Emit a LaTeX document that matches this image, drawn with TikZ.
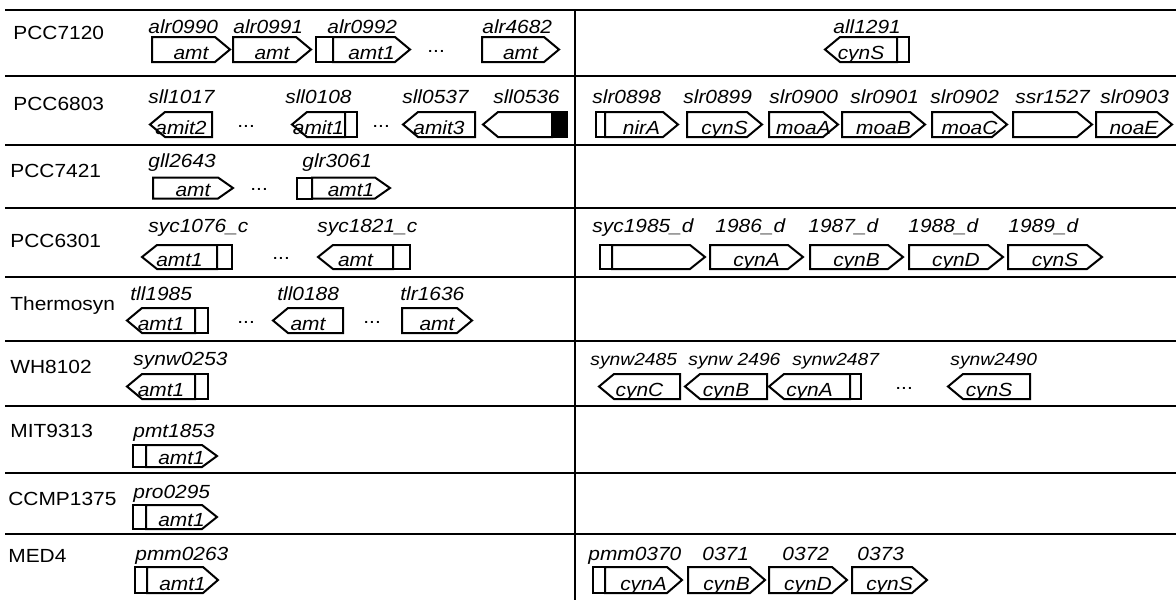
\documentclass[tikz,border=0pt]{standalone}
\usepackage{fontspec}
\setmainfont{Liberation Sans}[FakeStretch=1.1]
\newcommand{\gfont}{\fontsize{9.5}{11}\selectfont}
\newcommand{\sfont}{\fontsize{8.75}{10}\selectfont}
\newcommand{\ghalf}{12.5}
\newcommand{\gtip}{15}
% forward gene: name, left, tip, centre, text
\newcommand{\fgene}[5]{\draw[genebox] (#2,#4-\ghalf)--(#3-\gtip,#4-\ghalf)--(#3,#4)--(#3-\gtip,#4+\ghalf)--(#2,#4+\ghalf)--cycle;
  \node[inlab] (#1) at ({(#2+#3)/2},#4+\ghalf-2.5) {#5};}
% reverse gene: name, tip, right, centre, text
\newcommand{\rgene}[5]{\draw[genebox] (#2,#4)--(#2+\gtip,#4-\ghalf)--(#3,#4-\ghalf)--(#3,#4+\ghalf)--(#2+\gtip,#4+\ghalf)--cycle;
  \node[inlab] (#1) at ({(#2+#3)/2},#4+\ghalf-2.5) {#5};}
\newcommand{\prom}[3]{\draw[genebox] (#1,#3-\ghalf) rectangle (#2,#3+\ghalf);}
\begin{document}
\begin{tikzpicture}[x=0.5pt,y=-0.5pt,
  rule/.style={line width=1.35pt},
  genebox/.style={line width=1pt,line join=miter},
  inlab/.style={anchor=base,inner sep=0pt,font=\gfont\itshape},
  gid/.style={anchor=base west,inner sep=0pt,font=\gfont\itshape},
  sgid/.style={gid,font=\sfont\itshape},
  org/.style={anchor=base west,inner sep=0pt,font=\gfont},
  dots/.style={anchor=base west,inner sep=0pt,font=\gfont}]
\useasboundingbox (0,0) rectangle (1176,600);
\foreach \y in {10,76,145,208,277,341,406,473,534} \draw[rule] (5,\y) -- (1176,\y);
\draw[rule] (575,10) -- (575,600);
\node[org] (o7120) at (13,39) {PCC7120};
\node[org] (o6803) at (13,110) {PCC6803};
\node[org] (o7421) at (10,177) {PCC7421};
\node[org] (o6301) at (10,247) {PCC6301};
\node[org] (otherm) at (10,310) {Thermosyn};
\node[org] (o8102) at (10,373) {WH8102};
\node[org] (o9313) at (10,437) {MIT9313};
\node[org] (o1375) at (8,505) {CCMP1375};
\node[org] (omed4) at (8,562) {MED4};
% PCC7120
\node[gid] (alr0990) at (148,33) {alr0990};
\node[gid] (alr0991) at (233,33) {alr0991};
\node[gid] (alr0992) at (327,33) {alr0992};
\node[gid] (alr4682) at (482,33) {alr4682};
\fgene{amt-a}{152}{230}{49.5}{amt}
\fgene{amt-b}{233}{311}{49.5}{amt}
\prom{316}{333}{49.5}\fgene{amt1-a}{333}{410}{49.5}{amt1}
\node[dots] (d1) at (427,52) {...};
\fgene{amt-c}{482}{559}{49.5}{amt}
\node[gid] (all1291) at (833,33) {all1291};
\rgene{cynS-a}{825}{897}{49.5}{cynS}\prom{897}{909}{49.5}
% PCC6803
\node[gid] (sll1017) at (148,103) {sll1017};
\node[gid] (sll0108) at (285,103) {sll0108};
\node[gid] (sll0537) at (402,103) {sll0537};
\node[gid] (sll0536) at (493,103) {sll0536};
\rgene{amit2}{150}{212}{124.5}{amit2}
\node[dots] (d2) at (237,127) {...};
\rgene{amit1}{292}{345}{124.5}{amit1}\prom{345}{357}{124.5}
\node[dots] (d3) at (372,127) {...};
\rgene{amit3}{403}{475}{124.5}{amit3}
\rgene{g0536}{483}{552}{124.5}{}
\filldraw[genebox] (552,112) rectangle (567,137);
\node[gid] (slr0898) at (592,103) {slr0898};
\node[gid] (slr0899) at (683,103) {slr0899};
\node[gid] (slr0900) at (769,103) {slr0900};
\node[gid] (slr0901) at (850,103) {slr0901};
\node[gid] (slr0902) at (930,103) {slr0902};
\node[gid] (ssr1527) at (1015,103) {ssr1527};
\node[gid] (slr0903) at (1100,103) {slr0903};
\prom{596}{605}{124.5}\fgene{nirA}{605}{678}{124.5}{nirA}
\fgene{cynS-b}{687}{762}{124.5}{cynS}
\fgene{moaA}{769}{838}{124.5}{moaA}
\fgene{moaB}{842}{925}{124.5}{moaB}
\fgene{moaC}{932}{1007}{124.5}{moaC}
\fgene{g1527}{1013}{1092}{124.5}{}
\fgene{noaE}{1096}{1172}{124.5}{noaE}
% PCC7421
\renewcommand{\ghalf}{10.5}
\node[gid] (gll2643) at (148,167) {gll2643};
\node[gid] (glr3061) at (302,167) {glr3061};
\fgene{amt-d}{153}{233}{188}{amt}
\node[dots] (d4) at (250,190) {...};
\prom{297}{312}{188}\fgene{amt1-b}{312}{390}{188}{amt1}
% PCC6301
\renewcommand{\ghalf}{12}
\node[gid] (syc1076) at (148,232) {syc1076\_c};
\node[gid] (syc1821) at (317,232) {syc1821\_c};
\rgene{amt1-c}{142}{217}{257}{amt1}\prom{217}{232}{257}
\node[dots] (d5) at (272,259) {...};
\rgene{amt-e}{318}{393}{257}{amt}\prom{393}{410}{257}
\node[gid] (syc1985) at (592,232) {syc1985\_d};
\node[gid] (s1986) at (715,232) {1986\_d};
\node[gid] (s1987) at (808,232) {1987\_d};
\node[gid] (s1988) at (908,232) {1988\_d};
\node[gid] (s1989) at (1008,232) {1989\_d};
\prom{600}{612}{257}\fgene{g1985}{612}{705}{257}{}
\fgene{cynA-a}{710}{803}{257}{cynA}
\fgene{cynB-a}{810}{903}{257}{cynB}
\fgene{cynD-a}{909}{1003}{257}{cynD}
\fgene{cynS-c}{1008}{1102}{257}{cynS}
% Thermosyn
\renewcommand{\ghalf}{12.5}
\node[gid] (tll1985) at (130,300) {tll1985};
\node[gid] (tll0188) at (277,300) {tll0188};
\node[gid] (tlr1636) at (400,300) {tlr1636};
\rgene{amt1-d}{127}{195}{320.5}{amt1}\prom{195}{208}{320.5}
\node[dots] (d6) at (237,323) {...};
\rgene{amt-f}{273}{343}{320.5}{amt}
\node[dots] (d7) at (363,323) {...};
\fgene{amt-g}{402}{472}{320.5}{amt}
% WH8102
\node[gid] (synw0253) at (133,365) {synw0253};
\rgene{amt1-e}{127}{195}{386.5}{amt1}\prom{195}{208}{386.5}
\node[sgid] (synw2485) at (590,365) {synw2485};
\node[sgid] (synw2496) at (688,365) {synw 2496};
\node[sgid] (synw2487) at (792,365) {synw2487};
\node[sgid] (synw2490) at (950,365) {synw2490};
\rgene{cynC}{599}{680}{386.5}{cynC}
\rgene{cynB-b}{685}{767}{386.5}{cynB}
\rgene{cynA-b}{769}{850}{386.5}{cynA}\prom{850}{861}{386.5}
\node[dots] (d8) at (895,389) {...};
\rgene{cynS-d}{948}{1030}{386.5}{cynS}
% MIT9313, CCMP1375
\renewcommand{\ghalf}{11}
\node[gid] (pmt1853) at (133,437) {pmt1853};
\prom{133}{146}{456}\fgene{amt1-f}{146}{217}{456}{amt1}
\renewcommand{\ghalf}{12}
\node[gid] (pro0295) at (133,498) {pro0295};
\prom{133}{146}{517}\fgene{amt1-g}{146}{217}{517}{amt1}
% MED4
\renewcommand{\ghalf}{13}
\node[gid] (pmm0263) at (135,560) {pmm0263};
\prom{135}{147}{580}\fgene{amt1-h}{147}{218}{580}{amt1}
\node[gid] (pmm0370) at (588,560) {pmm0370};
\node[gid] (p0371) at (702,560) {0371};
\node[gid] (p0372) at (782,560) {0372};
\node[gid] (p0373) at (857,560) {0373};
\prom{593}{605}{580}\fgene{cynA-c}{605}{682}{580}{cynA}
\fgene{cynB-c}{688}{765}{580}{cynB}
\fgene{cynD-b}{769}{847}{580}{cynD}
\fgene{cynS-e}{852}{927}{580}{cynS}
\end{tikzpicture}
\end{document}
